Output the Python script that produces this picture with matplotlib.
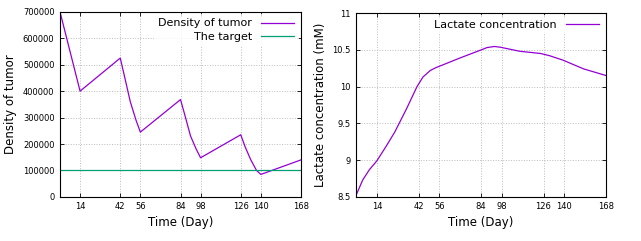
import matplotlib
matplotlib.use('Agg')
import matplotlib.pyplot as plt

# Tumor density (left panel)
tumor_days = [0, 14, 42, 45, 49, 53, 56, 84, 87, 91, 95, 98, 126, 129, 133, 137, 140, 168]
tumor_density = [700000, 400000, 525000, 455000, 360000, 290000, 245000,
                 368000, 310000, 230000, 180000, 148000, 235000, 190000, 140000, 100000, 85000, 140000]
target_days = [0, 168]
target_density = [100000, 100000]

# Lactate concentration (right panel)
lact_days = [0, 4.5, 9, 14, 20, 26, 34, 41, 45, 50, 54, 59, 70, 83, 88, 93, 97, 110, 124, 130, 139, 153, 168]
lact_conc = [8.52, 8.73, 8.87, 8.99, 9.18, 9.38, 9.70, 10.0, 10.13, 10.22, 10.26, 10.30, 10.39, 10.49,
             10.53, 10.545, 10.535, 10.48, 10.45, 10.42, 10.36, 10.24, 10.15]

day_ticks = [14, 42, 56, 84, 98, 126, 140, 168]
purple = '#9400d3'
green = '#009e73'

fig = plt.figure(figsize=(6.41, 2.41), dpi=100)
ax1 = fig.add_axes([0.0936, 0.183, 0.376, 0.768])
ax2 = fig.add_axes([0.5554, 0.183, 0.39, 0.763])


def style(ax):
    ax.set_xlim(0, 168)
    ax.set_xticks(day_ticks)
    ax.grid(True, color='#bbbbbb', linestyle=':', linewidth=0.7)
    ax.tick_params(direction='in', top=True, right=True, labelsize=6, length=3, width=0.6, pad=4)
    for s in ax.spines.values():
        s.set_linewidth(0.8)
    ax.set_xlabel('Time (Day)', fontsize=8.5, labelpad=3)


ax1.plot(tumor_days, tumor_density, color=purple, linewidth=0.9, label='Density of tumor')
ax1.plot(target_days, target_density, color=green, linewidth=0.9, label='The target')
style(ax1)
ax1.set_ylim(0, 700000)
ax1.set_yticks(range(0, 700001, 100000))
ax1.set_ylabel('Density of tumor', fontsize=8.5, labelpad=4)
leg = ax1.legend(loc='upper right', fontsize=8, frameon=True, markerfirst=False,
                 handlelength=3, borderaxespad=0.2, labelspacing=0.3, fancybox=False)
leg.get_frame().set_edgecolor('none')

ax2.plot(lact_days, lact_conc, color=purple, linewidth=0.9, label='Lactate concentration')
style(ax2)
ax2.set_ylim(8.5, 11)
ax2.set_yticks([8.5, 9, 9.5, 10, 10.5, 11])
ax2.set_yticklabels(['8.5', '9', '9.5', '10', '10.5', '11'])
ax2.set_ylabel('Lactate concentration (mM)', fontsize=8.5, labelpad=4)
leg = ax2.legend(loc='upper right', fontsize=8, frameon=True, markerfirst=False,
                 handlelength=3, borderaxespad=0.2, fancybox=False)
leg.get_frame().set_edgecolor('none')

fig.savefig('out.png', dpi=100)
